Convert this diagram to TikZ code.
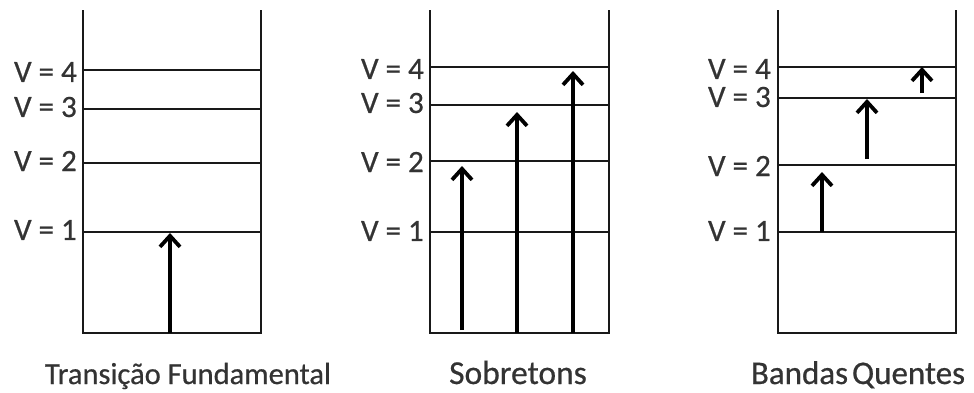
\documentclass[tikz,border=0pt]{standalone}
\usepackage{fontspec}
\setmainfont{Carlito}
\newfontfamily\lblfont[FakeBold=0.6]{Carlito}
\usetikzlibrary{arrows.meta}
\begin{document}
\begin{tikzpicture}[x=1pt,y=-1pt,
  wall/.style={line width=2.2pt,line join=miter,draw=black!90},
  level/.style={line width=1.9pt,draw=black!90},
  trans/.style={line width=3.8pt,-{Straight Barb[length=11pt,width=20pt]}},
  lvl/.style={anchor=east,font=\lblfont\fontsize{31}{34}\selectfont,inner sep=0pt,text=black!80},
  ttl/.style={anchor=base,inner sep=0pt,text=black!80}]
\useasboundingbox (0,0) rectangle (974,392);
% ---------- panel 1 ----------
\draw[wall] (83,10) -- (83,333) -- (261,333) -- (261,10);
\foreach \y in {70,109,163,232} \draw[level] (83,\y) -- (261,\y);
\node[lvl] (a4) at (77,72) {V = 4};
\node[lvl] (a3) at (77,107) {V = 3};
\node[lvl] (a2) at (77,161) {V = 2};
\node[lvl] (a1) at (77,230) {V = 1};
\coordinate (p1s) at (170,333);
\coordinate (p1e) at (170,233);
\draw[trans] (p1s) -- (p1e);
\node[ttl,font=\lblfont\fontsize{30.5}{34}\selectfont] (t1) at (188,384) {Transição Fundamental};
% ---------- panel 2 ----------
\draw[wall] (430,10) -- (430,333) -- (609,333) -- (609,10);
\foreach \y in {67,105,161,232} \draw[level] (430,\y) -- (609,\y);
\node[lvl] (b4) at (424,69) {V = 4};
\node[lvl] (b3) at (424,103) {V = 3};
\node[lvl] (b2) at (424,162) {V = 2};
\node[lvl] (b1) at (424,231) {V = 1};
\coordinate (q1s) at (462,330);
\coordinate (q1e) at (462,166);
\coordinate (q2s) at (517,333);
\coordinate (q2e) at (517,112);
\coordinate (q3s) at (573,333);
\coordinate (q3e) at (573,71);
\draw[trans] (q1s) -- (q1e);
\draw[trans] (q2s) -- (q2e);
\draw[trans] (q3s) -- (q3e);
\node[ttl,font=\lblfont\fontsize{33.5}{36}\selectfont] (t2) at (518,384) {Sobretons};
% ---------- panel 3 ----------
\draw[wall] (778,10) -- (778,333) -- (956,333) -- (956,10);
\foreach \y in {67,98,165,232} \draw[level] (778,\y) -- (956,\y);
\node[lvl] (c4) at (771,69) {V = 4};
\node[lvl] (c3) at (771,97) {V = 3};
\node[lvl] (c2) at (771,166) {V = 2};
\node[lvl] (c1) at (771,231) {V = 1};
\coordinate (r1s) at (822,232);
\coordinate (r1e) at (822,172);
\coordinate (r2s) at (867,159);
\coordinate (r2e) at (867,99);
\coordinate (r3s) at (922,93);
\coordinate (r3e) at (922,67);
\draw[trans] (r1s) -- (r1e);
\draw[trans] (r2s) -- (r2e);
\draw[trans] (r3s) -- (r3e);
\node[ttl,font=\lblfont\fontsize{33}{36}\selectfont] (t3) at (858,384) {Bandas\hspace{0.12em}Quentes};
\end{tikzpicture}
\end{document}
